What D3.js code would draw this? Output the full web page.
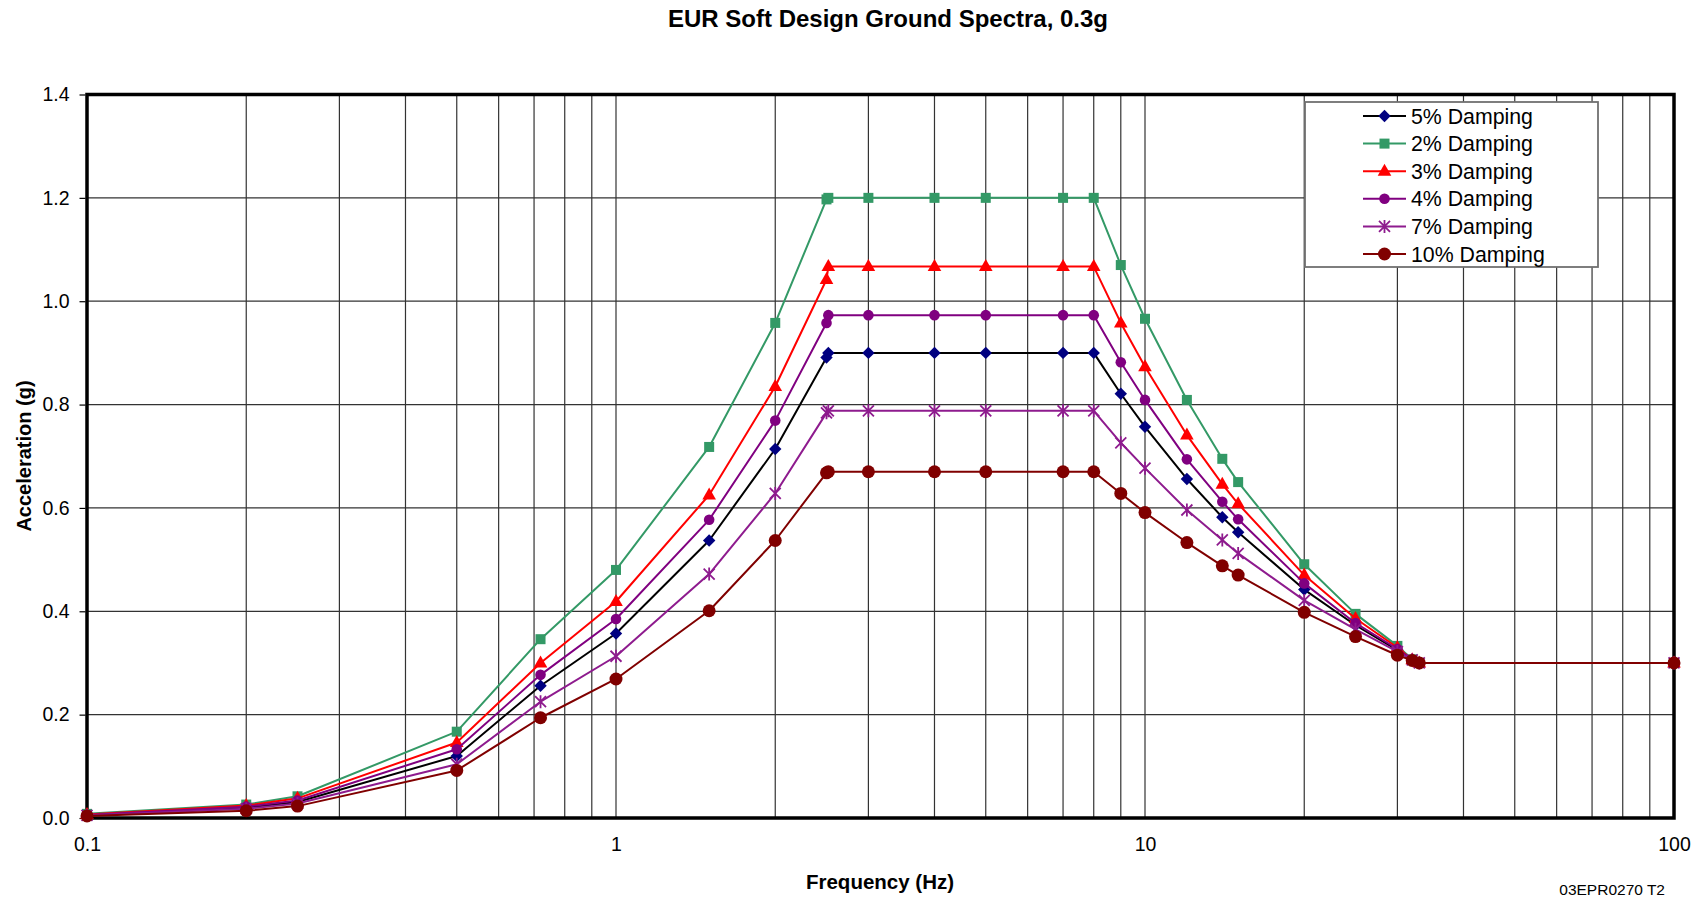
<!DOCTYPE html>
<html>
<head>
<meta charset="utf-8">
<script src="https://cdn.jsdelivr.net/npm/d3@7"></script>
<style>
  html, body { margin: 0; padding: 0; background: #fff; }
  svg { display: block; font-family: "Liberation Sans", Arial, sans-serif; }
</style>
</head>
<body>
<svg id="chart" width="1703" height="899"></svg>
<script>
// ---- data ----
const frequencies = [0.1, 0.2, 0.25, 0.5, 0.72, 1, 1.5, 2, 2.5, 2.52, 3, 4, 5, 7, 8, 9, 10, 12, 14, 15, 20, 25, 30, 32, 33, 100];
const damping5  = [0.006, 0.020, 0.031, 0.120, 0.256, 0.357, 0.537, 0.714, 0.891, 0.900, 0.900, 0.900, 0.900, 0.900, 0.900, 0.821, 0.757, 0.656, 0.582, 0.553, 0.442, 0.373, 0.325, 0.306, 0.300, 0.300];
const damping2  = [0.008, 0.026, 0.042, 0.167, 0.346, 0.480, 0.718, 0.958, 1.197, 1.200, 1.200, 1.200, 1.200, 1.200, 1.200, 1.070, 0.966, 0.809, 0.695, 0.650, 0.491, 0.395, 0.333, 0.307, 0.300, 0.300];
const damping3  = [0.007, 0.024, 0.038, 0.146, 0.300, 0.419, 0.625, 0.835, 1.042, 1.067, 1.067, 1.067, 1.067, 1.067, 1.067, 0.958, 0.873, 0.741, 0.646, 0.608, 0.470, 0.386, 0.330, 0.306, 0.300, 0.300];
const damping4  = [0.006, 0.022, 0.034, 0.133, 0.277, 0.385, 0.577, 0.769, 0.958, 0.973, 0.973, 0.973, 0.973, 0.973, 0.973, 0.882, 0.809, 0.694, 0.612, 0.578, 0.454, 0.377, 0.327, 0.306, 0.300, 0.300];
const damping7  = [0.005, 0.018, 0.028, 0.104, 0.225, 0.313, 0.472, 0.628, 0.784, 0.788, 0.788, 0.788, 0.788, 0.788, 0.788, 0.726, 0.677, 0.596, 0.538, 0.512, 0.421, 0.365, 0.322, 0.306, 0.300, 0.300];
const damping10 = [0.004, 0.014, 0.023, 0.092, 0.194, 0.269, 0.401, 0.537, 0.668, 0.670, 0.670, 0.670, 0.670, 0.670, 0.670, 0.628, 0.591, 0.533, 0.488, 0.470, 0.398, 0.351, 0.315, 0.305, 0.300, 0.300];

const seriesNames = ["5% Damping", "2% Damping", "3% Damping", "4% Damping", "7% Damping", "10% Damping"];
const xTickValues = [0.1, 1, 10, 100];
const xTickLabels = ["0.1", "1", "10", "100"];
const yTickValues = [0, 0.2, 0.4, 0.6, 0.8, 1.0, 1.2, 1.4];

// ---- styles ----
const styles = [
  { line: "#000000", fill: "#000080", marker: "diamond" },
  { line: "#339966", fill: "#339966", marker: "square" },
  { line: "#FF0000", fill: "#FF0000", marker: "triangle" },
  { line: "#800080", fill: "#800080", marker: "circle" },
  { line: "#8E1B8E", fill: "#8E1B8E", marker: "star" },
  { line: "#800000", fill: "#800000", marker: "bigcircle" }
];
const seriesValues = [damping5, damping2, damping3, damping4, damping7, damping10];

const svg = d3.select("#chart");
const L = 87, R = 1674, T = 94.5, B = 818;

const x = d3.scaleLog().domain([0.1, 100]).range([L, R]);
const y = d3.scaleLinear().domain([0, 1.4]).range([B, T]);

// gridlines
const minorX = [];
[0.1, 1, 10].forEach(d => { for (let k = 1; k <= 9; k++) minorX.push(d * k); });
minorX.push(100);
const grid = svg.append("g");
grid.selectAll("line.vx").data(minorX.filter(v => v > 0.1 && v < 100)).join("line")
  .attr("x1", d => x(d)).attr("x2", d => x(d)).attr("y1", T).attr("y2", B)
  .attr("stroke", "#333").attr("stroke-width", 1.2);
grid.selectAll("line.hy").data(yTickValues.filter(v => v > 0 && v < 1.4)).join("line")
  .attr("x1", L).attr("x2", R).attr("y1", d => y(d)).attr("y2", d => y(d))
  .attr("stroke", "#333").attr("stroke-width", 1.2);

// frame
svg.append("rect").attr("x", L).attr("y", T).attr("width", R - L).attr("height", B - T)
  .attr("fill", "none").attr("stroke", "#000").attr("stroke-width", 3.5);

// y axis
const yAxis = d3.axisLeft(y).tickValues(yTickValues).tickFormat(d3.format(".1f")).tickSizeOuter(0).tickSize(6).tickPadding(10);
const gy = svg.append("g").attr("transform", `translate(${L - 1.5},0)`).call(yAxis);
gy.select(".domain").remove();
gy.selectAll(".tick line").attr("stroke", "#000").attr("stroke-width", 1.2);
gy.selectAll(".tick text").attr("font-size", 19.5).attr("fill", "#000").attr("font-family", "Liberation Sans, Arial, sans-serif");

// x axis
const xAxis = d3.axisBottom(x).tickValues(xTickValues).tickFormat((d, i) => xTickLabels[i]).tickSize(0).tickPadding(19);
const gx = svg.append("g").attr("transform", `translate(0,${B})`).call(xAxis);
gx.select(".domain").remove();
gx.selectAll(".tick text").attr("font-size", 19.5).attr("fill", "#000").attr("font-family", "Liberation Sans, Arial, sans-serif");

// markers
function drawMarker(g, type, s) {
  if (type === "diamond") {
    g.append("path").attr("d", "M0,-6.2L6.2,0L0,6.2L-6.2,0Z").attr("fill", s.fill);
  } else if (type === "square") {
    g.append("rect").attr("x", -5).attr("y", -5).attr("width", 10).attr("height", 10).attr("fill", s.fill);
  } else if (type === "triangle") {
    g.append("path").attr("d", "M0,-7.5L6.8,4.5L-6.8,4.5Z").attr("fill", s.fill);
  } else if (type === "circle") {
    g.append("circle").attr("r", 5.3).attr("fill", s.fill);
  } else if (type === "bigcircle") {
    g.append("circle").attr("r", 6.5).attr("fill", s.fill);
  } else if (type === "star") {
    g.append("path").attr("d", "M-5.5,-5.5L5.5,5.5M-5.5,5.5L5.5,-5.5M0,-6.5L0,6.5")
      .attr("stroke", s.fill).attr("stroke-width", 1.8).attr("fill", "none");
  }
}

const line = d3.line().x(d => x(d[0])).y(d => y(d[1]));

seriesValues.forEach((vals, i) => {
  const s = styles[i];
  const pts = frequencies.map((f, j) => [f, vals[j]]);
  const g = svg.append("g");
  g.append("path").datum(pts).attr("d", line)
    .attr("fill", "none").attr("stroke", s.line).attr("stroke-width", 2).attr("stroke-linejoin", "round");
  g.selectAll("g.m").data(pts).join("g")
    .attr("transform", d => `translate(${x(d[0])},${y(d[1])})`)
    .each(function () { drawMarker(d3.select(this), s.marker, s); });
});

// legend
const lg = svg.append("g");
lg.append("rect").attr("x", 1305).attr("y", 102).attr("width", 293).attr("height", 165)
  .attr("fill", "#fff").attr("stroke", "#707070").attr("stroke-width", 1.8);
seriesNames.forEach((name, i) => {
  const s = styles[i];
  const cy = 116 + i * 27.6;
  lg.append("line").attr("x1", 1363).attr("x2", 1406).attr("y1", cy).attr("y2", cy)
    .attr("stroke", s.line).attr("stroke-width", 2);
  const mg = lg.append("g").attr("transform", `translate(1384.5,${cy})`);
  drawMarker(mg, s.marker, s);
  lg.append("text").attr("x", 1411).attr("y", cy + 7.5).attr("font-size", 21.3).attr("fill", "#000").text(name);
});

// titles
svg.append("text").attr("x", 888).attr("y", 27).attr("text-anchor", "middle")
  .attr("font-size", 24).attr("font-weight", "bold").text("EUR Soft Design Ground Spectra, 0.3g");
svg.append("text").attr("x", 880).attr("y", 889).attr("text-anchor", "middle")
  .attr("font-size", 20.5).attr("font-weight", "bold").text("Frequency (Hz)");
svg.append("text").attr("transform", "translate(31,456) rotate(-90)").attr("text-anchor", "middle")
  .attr("font-size", 20).attr("font-weight", "bold").text("Acceleration (g)");
svg.append("text").attr("x", 1665).attr("y", 895).attr("text-anchor", "end")
  .attr("font-size", 15.5).text("03EPR0270 T2");
</script>
</body>
</html>
